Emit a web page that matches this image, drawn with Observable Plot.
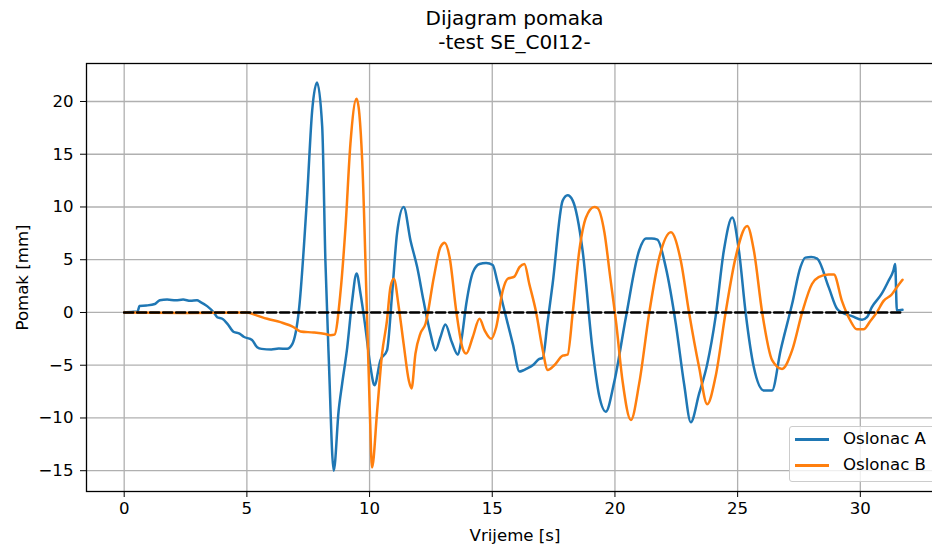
<!DOCTYPE html>
<html>
<head>
<meta charset="utf-8">
<script src="https://cdn.jsdelivr.net/npm/d3@7"></script>
<script src="https://cdn.jsdelivr.net/npm/@observablehq/plot@0.6"></script>
<style>
  html, body { margin: 0; padding: 0; background: #fff; }
  body { font-family: "DejaVu Sans", sans-serif; color: #000; }
  #wrap { position: relative; width: 932px; height: 547px; overflow: hidden; }
  #title { position: absolute; left: 86px; width: 857px; top: 0; height: 55px; box-sizing: border-box;
           padding-top: 5.6px; text-align: center; font-size: 20px; line-height: 24px; color: #000; }
  #chart { position: absolute; left: 0; top: 55px; width: 960px; height: 492px; }
  #chart svg { max-width: none !important; }
  #legend { position: absolute; left: 789px; top: 426px; width: 146px; height: 56px; box-sizing: border-box;
            border: 1px solid #cccccc; border-radius: 3px; background: rgba(255,255,255,0.8); }
  .lrow { position: absolute; left: 0; height: 20px; width: 146px; }
  .lline { position: absolute; left: 5px; width: 34px; height: 2.5px; top: 9px; }
  .ltext { position: absolute; left: 53px; top: 0; font-size: 16.6px; line-height: 20px; white-space: nowrap; color: #000; }
</style>
</head>
<body>
<div id="wrap">
  <div id="title"></div>
  <div id="chart"></div>
  <div id="legend"></div>
</div>
<script>
// ---- data ----
const titleLines = ["Dijagram pomaka", "-test SE_C0I12-"];
const xLabel = "Vrijeme [s]";
const yLabel = "Pomak [mm]";
const seriesNames = ["Oslonac A", "Oslonac B"];
const seriesColors = ["#1f77b4", "#ff7f0e"];
const xTicks = [0, 5, 10, 15, 20, 25, 30];
const yTicks = [-15, -10, -5, 0, 5, 10, 15, 20];

const tA = [0,0.3,0.55,0.62,0.9,1.25,1.45,1.75,2.1,2.4,2.7,2.97,3.1,3.38,3.65,3.79,4.0,4.2,4.47,4.7,4.87,5.21,5.42,5.6,6.0,6.3,6.64,6.85,
  7.12,7.46,7.66,7.86,8.07,8.2,8.34,8.54,8.74,8.88,9.09,9.29,9.47,9.63,9.83,10.04,10.2,10.44,10.71,10.92,11.12,11.39,11.67,11.94,12.2,12.48,
  12.69,12.88,13.09,13.35,13.6,13.75,13.94,14.21,14.48,14.75,15.02,15.2,15.43,15.84,16.11,16.25,16.38,16.65,16.92,17.06,17.25,17.46,17.87,
  18.07,18.28,18.68,19.09,19.35,19.63,19.97,20.45,20.99,21.26,21.5,21.73,22.07,22.48,22.82,23.09,23.43,23.76,24.1,24.44,24.78,25.05,25.33,
  25.66,26.07,26.4,26.75,27.22,27.56,27.76,28.0,28.24,28.71,29.05,29.25,29.66,30.07,30.27,30.47,30.88,31.15,31.35,31.42,31.49,31.72];
const vA = [0,0.05,0.1,0.62,0.66,0.8,1.15,1.22,1.15,1.22,1.1,1.15,1.0,0.6,0.0,-0.45,-0.6,-1.05,-1.85,-2.0,-2.3,-2.6,-3.3,-3.45,-3.5,-3.42,-3.45,-3.0,
  0.2,11.2,19.1,21.8,17.6,4.9,-4.55,-15.0,-9.3,-6.8,-3.3,1.1,3.7,1.8,-1.4,-5.2,-6.9,-4.55,-3.6,1.8,7.5,10.0,6.8,4.3,1.1,-2.0,
  -3.6,-2.4,-1.14,-2.8,-4.0,-2.5,0.8,3.8,4.6,4.7,4.5,3.0,0.8,-3.0,-5.6,-5.5,-5.35,-5.0,-4.4,-4.3,-1.0,2.7,10.6,
  11.1,10.6,5.9,-3.6,-7.8,-9.4,-6.6,-0.4,5.9,7.0,7.0,6.9,4.3,-1.07,-6.8,-10.4,-7.7,-4.9,-0.44,5.9,9.0,5.9,-0.1,
  -5.2,-7.4,-7.4,-3.6,0.8,4.3,5.2,5.25,5.1,2.4,0.35,0.0,-0.35,-0.7,-0.45,0.5,1.8,3.0,4.0,4.6,0.2,0.25];

const tB = [0,2.5,5.0,5.42,5.83,6.37,6.91,7.18,7.72,8.2,8.4,8.57,8.81,9.02,9.22,9.47,9.7,9.87,10.01,10.1,10.31,10.51,10.71,10.85,10.99,11.19,
  11.39,11.6,11.71,11.87,12.07,12.28,12.62,12.89,13.06,13.26,13.54,13.8,13.94,14.21,14.48,14.69,14.96,15.16,15.43,15.63,15.9,16.11,16.31,
  16.51,16.79,17.06,17.26,17.53,17.87,18.07,18.28,18.55,18.82,19.16,19.29,19.57,19.8,20.05,20.31,20.65,20.99,21.4,21.81,22.28,22.68,23.02,
  23.43,23.76,24.1,24.51,24.92,25.39,25.66,26.0,26.41,26.81,27.22,27.63,28.03,28.3,28.71,28.92,29.25,29.59,29.86,30.13,30.41,30.67,30.95,
  31.28,31.49,31.72];
const vB = [0,-0.05,0,-0.3,-0.6,-0.92,-1.4,-1.8,-1.9,-2.05,-2.15,-2.1,1.8,8.1,16.0,20.25,14.4,1.8,-9.3,-14.7,-9.3,-3.9,-0.76,2.4,3.2,0.5,
  -3.0,-6.45,-7.2,-3.9,-2.0,-1.07,3.35,6.2,6.6,5.25,0,-3.45,-3.9,-2.3,-0.6,-1.7,-2.5,-1.4,2.1,3.2,3.4,4.3,4.6,
  2.7,0,-3.6,-5.45,-5.0,-4.1,-4.0,0,5.9,9.0,10.0,9.9,7.6,3.5,-1.0,-6.5,-10.2,-6.7,0,5.25,7.6,4.95,0,
  -5.2,-8.7,-6.1,0,5.25,8.2,5.9,0,-4.55,-5.35,-3.6,0,2.7,3.35,3.6,3.6,1.1,-0.76,-1.6,-1.6,-0.8,0,1.1,
  1.7,2.4,3.1];

const tZero = [0, 31.72];
const vZero = [0, 0];

// ---- build tables ----
const dataA = tA.map((t, i) => ({t, v: vA[i]}));
const dataB = tB.map((t, i) => ({t, v: vB[i]}));
const dataZ = tZero.map((t, i) => ({t, v: vZero[i]}));

document.getElementById("title").innerHTML = titleLines.map(s => `<div>${s}</div>`).join("");

const chart = Plot.plot({
  width: 960,
  height: 492,
  marginLeft: 86,
  marginRight: 17,
  marginTop: 8,
  marginBottom: 56,
  style: { fontFamily: "DejaVu Sans, sans-serif", fontSize: "16.6px", color: "#000", background: "transparent", maxWidth: "none" },
  x: { domain: [-1.536, 33.39], label: null },
  y: { domain: [-16.97, 23.6], label: null },
  marks: [
    Plot.gridX(xTicks, { stroke: "#b0b0b0", strokeOpacity: 1, strokeWidth: 1.3 }),
    Plot.gridY(yTicks, { stroke: "#b0b0b0", strokeOpacity: 1, strokeWidth: 1.3 }),
    Plot.line(dataA, { x: "t", y: "v", stroke: seriesColors[0], strokeWidth: 2.5, curve: "monotone-x" }),
    Plot.line(dataB, { x: "t", y: "v", stroke: seriesColors[1], strokeWidth: 2.5, curve: "monotone-x" }),
    Plot.line(dataZ, { x: "t", y: "v", stroke: "#000", strokeWidth: 2.5, strokeDasharray: "9,4" }),
    Plot.frame({ stroke: "#000", strokeWidth: 1.3 }),
    Plot.axisX(xTicks, { tickSize: 6, tickPadding: 5, label: null, fontSize: 16.6 }),
    Plot.axisY(yTicks, { tickSize: 6, tickPadding: 7, label: null, fontSize: 16.6 }),
    Plot.text([xLabel], { frameAnchor: "bottom", dy: 44, lineAnchor: "middle", fontSize: 16.6, fill: "#000" }),
    Plot.text([yLabel], { frameAnchor: "left", dx: -64, rotate: -90, lineAnchor: "middle", textAnchor: "middle", fontSize: 16.6, fill: "#000" })
  ]
});
document.getElementById("chart").appendChild(chart);

// legend
const legend = document.getElementById("legend");
seriesNames.forEach((name, i) => {
  const row = document.createElement("div");
  row.className = "lrow";
  row.style.top = (i === 0 ? 2 : 28) + "px";
  row.innerHTML = `<div class="lline" style="background:${seriesColors[i]}"></div><div class="ltext">${name}</div>`;
  legend.appendChild(row);
});
</script>
</body>
</html>
